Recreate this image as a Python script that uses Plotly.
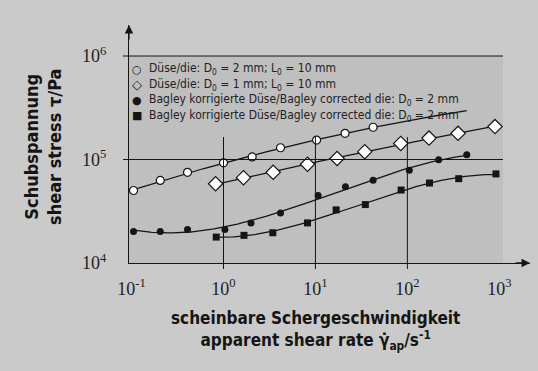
import numpy as np
import plotly.graph_objects as go

# ---------------- data ----------------
# open circles: die D0 = 2 mm, L0 = 10 mm
rate_d2 = [0.105, 0.205, 0.406, 1.0, 2.05, 4.17, 10.3, 21.0, 42.4]
stress_d2 = [50200, 62800, 75200, 92900, 106000, 130000, 154000, 179000, 205000]

# open diamonds: die D0 = 1 mm, L0 = 10 mm
rate_d1 = [0.82, 1.65, 3.47, 8.2, 17.2, 34.4, 84.7, 172, 356, 898]
stress_d1 = [58300, 66800, 75200, 90000, 102400, 119000, 143000, 161000, 179000, 208000]

# filled circles: Bagley corrected die D0 = 2 mm
rate_b2 = [0.105, 0.205, 0.406, 1.035, 1.99, 4.17, 10.7, 21.2, 42.4, 105, 219, 443]
stress_b2 = [20200, 20200, 21100, 21100, 24400, 30500, 44900, 54500, 62900, 78700, 99300, 111000]

# filled squares: Bagley corrected die (second series)
rate_b1 = [0.834, 1.67, 3.44, 8.19, 16.8, 34.9, 85.5, 174, 362, 920]
stress_b1 = [17800, 18500, 19600, 24400, 32600, 36700, 50700, 59300, 65300, 72600]

x_tick_vals = [0.1, 1, 10, 100, 1000]
x_tick_text = ["10<sup>-1</sup>", "10<sup>0</sup>", "10<sup>1</sup>", "10<sup>2</sup>", "10<sup>3</sup>"]
y_tick_vals = [1e4, 1e5, 1e6]
y_tick_text = ["10<sup>4</sup>", "10<sup>5</sup>", "10<sup>6</sup>"]

legend_labels = [
    "Düse/die: D<sub>0</sub> = 2 mm; L<sub>0</sub> = 10 mm",
    "Düse/die: D<sub>0</sub> = 1 mm; L<sub>0</sub> = 10 mm",
    "Bagley korrigierte Düse/Bagley corrected die: D<sub>0</sub> = 2 mm",
    "Bagley korrigierte Düse/Bagley corrected die: D<sub>0</sub> = 2 mm",
]
legend_symbols = ["○", "◇", "●", "■"]

# ---------------- layout constants ----------------
W, H = 538, 371
ML, MR, MT, MB = 129, 8, 25, 108
PW, PH = W - ML - MR, H - MT - MB
SANS = "DejaVu Sans Condensed, Liberation Sans Narrow, Arial Narrow, sans-serif"
SERIF = "Liberation Serif, DejaVu Serif, serif"
INK = "#151515"
PAPER = "#cacaca"


def px2paper(px, py):
    return (px - ML) / PW, (H - MB - py) / PH


def fit_curve(x, y, deg, x_end=None):
    lx, ly = np.log10(x), np.log10(y)
    c = np.polyfit(lx, ly, deg)
    end = np.log10(x_end) if x_end else lx.max()
    gx = np.linspace(lx.min(), end, 200)
    return 10 ** gx, 10 ** np.polyval(c, gx)


fig = go.Figure()

series = [
    (rate_d2, stress_d2, 2, 443, dict(symbol="circle", size=8, color="white", line=dict(color=INK, width=1.2))),
    (rate_d1, stress_d1, 2, None, dict(symbol="diamond", size=11, color="white", line=dict(color=INK, width=1.2))),
    (rate_b2, stress_b2, 3, None, dict(symbol="circle", size=7, color=INK, line=dict(color=INK, width=0))),
    (rate_b1, stress_b1, 3, None, dict(symbol="square", size=7, color=INK, line=dict(color=INK, width=0))),
]
for (xs, ys, deg, xend, mk), name in zip(series, legend_labels):
    fx, fy = fit_curve(xs, ys, deg, xend)
    fig.add_trace(go.Scatter(x=fx, y=fy, mode="lines", line=dict(color=INK, width=1.3),
                             showlegend=False, hoverinfo="skip"))
for (xs, ys, deg, xend, mk), name in zip(series, legend_labels):
    fig.add_trace(go.Scatter(x=xs, y=ys, mode="markers", marker=mk, name=name, showlegend=False))

shapes = []
# shaded plot region
x_end_p, _ = px2paper(503, 0)
_, y6_p = px2paper(0, 56)
shapes.append(dict(type="rect", xref="paper", yref="paper", x0=0, x1=x_end_p, y0=0, y1=y6_p,
                   fillcolor="#bfbfbf", line=dict(width=0), layer="below"))
# horizontal grid lines at 1e5 and 1e6
for yv in [1e5, 1e6]:
    shapes.append(dict(type="line", xref="paper", yref="y", x0=-0.015, x1=x_end_p, y0=yv, y1=yv,
                       line=dict(color=INK, width=1.1), layer="above"))
# vertical grid lines at 1, 10, 100
_, vtop = px2paper(0, 137)
_, vbot = px2paper(0, 269)
for xv in [1, 10, 100]:
    shapes.append(dict(type="line", xref="x", yref="paper", x0=xv, x1=xv, y0=vbot, y1=vtop,
                       line=dict(color=INK, width=1.0), layer="above"))

annotations = []
# axis arrowheads
annotations.append(dict(xref="paper", yref="paper", x=1, y=0, ax=-16, ay=0, text="", showarrow=True,
                        arrowhead=2, arrowsize=1.3, arrowwidth=1.3, arrowcolor=INK))
annotations.append(dict(xref="paper", yref="paper", x=0, y=1, ax=0, ay=16, text="", showarrow=True,
                        arrowhead=2, arrowsize=1.3, arrowwidth=1.3, arrowcolor=INK))
# legend
legend_rows = [69, 84.5, 100, 115.5]
for sym, lab, ry in zip(legend_symbols, legend_labels, legend_rows):
    sx, sy = px2paper(137, ry)
    tx, _ = px2paper(147, ry)
    annotations.append(dict(xref="paper", yref="paper", x=sx, y=sy, text=sym, showarrow=False,
                            xanchor="center", yanchor="middle",
                            font=dict(family="DejaVu Sans", size=11 if sym != "◇" else 13, color=INK)))
    annotations.append(dict(xref="paper", yref="paper", x=tx, y=sy, text=lab, showarrow=False,
                            xanchor="left", yanchor="middle",
                            font=dict(family=SANS, size=12, color="#222")))
# axis titles
yx, yy = px2paper(43, 147)
annotations.append(dict(xref="paper", yref="paper", x=yx, y=yy, textangle=-90, showarrow=False,
                        xanchor="center", yanchor="middle",
                        text="<b>Schubspannung</b><br><b>shear stress τ/Pa</b>",
                        font=dict(family=SANS, size=18, color=INK)))
xx, xy = px2paper(315, 331)
annotations.append(dict(xref="paper", yref="paper", x=xx, y=xy, showarrow=False,
                        xanchor="center", yanchor="middle",
                        text="<b>scheinbare Schergeschwindigkeit</b><br><b>apparent shear rate γ̇<sub>ap</sub>/s<sup>-1</sup></b>",
                        font=dict(family=SANS, size=17, color=INK)))

fig.update_layout(
    width=W, height=H,
    margin=dict(l=ML, r=MR, t=MT, b=MB),
    paper_bgcolor=PAPER, plot_bgcolor="rgba(0,0,0,0)",
    showlegend=False,
    shapes=shapes, annotations=annotations,
    xaxis=dict(type="log", range=[-1.028, 3.334], showgrid=False, zeroline=False,
               showline=True, linecolor=INK, linewidth=1.3, ticks="",
               tickvals=x_tick_vals, ticktext=x_tick_text, ticklabelstandoff=9,
               tickfont=dict(family=SERIF, size=18, color="#222")),
    yaxis=dict(type="log", range=[4, 6.3], showgrid=False, zeroline=False,
               showline=True, linecolor=INK, linewidth=1.3, ticks="",
               tickvals=y_tick_vals, ticktext=y_tick_text, ticklabelstandoff=18,
               tickfont=dict(family=SERIF, size=18, color="#222")),
)

fig.write_html(
    "out.html",
    config={"displayModeBar": False},
    post_script="document.body.style.margin='0';document.body.style.background='%s';" % PAPER,
)
